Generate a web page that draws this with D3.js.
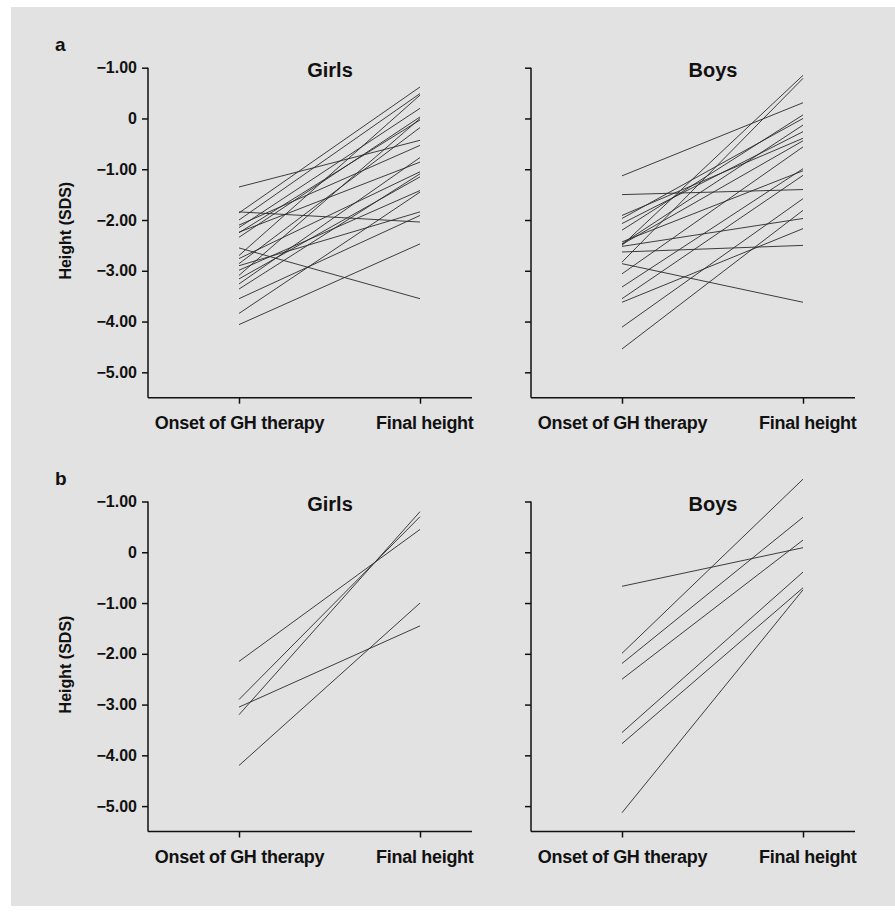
<!DOCTYPE html>
<html>
<head>
<meta charset="utf-8">
<script src="https://cdn.jsdelivr.net/npm/d3@7"></script>
<style>
	body { margin: 0; background: #fff; }
	svg { display: block; font-family: "Liberation Sans", Arial, sans-serif; }
</style>
</head>
<body>
<div id="chart"></div>
<script>
// categories and tick labels
const xCategories = ["Onset of GH therapy", "Final height"];
const yTicks = [1, 0, -1, -2, -3, -4, -5];
const yTickLabels = ["\u22121.00", "0", "\u22121.00", "\u22122.00", "\u22123.00", "\u22124.00", "\u22125.00"];

// panel a, girls (height SDS at onset / final)
const girlsAOnset = [-1.35, -1.84, -2.55, -4.06, -3.84, -3.55, -1.86, -2.0, -2.1, -2.15, -2.24,
	-2.34, -2.7, -2.76, -2.86, -2.99, -3.09, -3.16, -3.26, -3.36, -2.25, -2.9];
const girlsAFinal = [-0.43, -2.04, -3.55, -2.47, -1.45, -1.91, 0.62, 0.49, -0.53, 0.2, -0.86,
	0.03, 0.46, -1.05, -0.18, -1.42, 0, -1.15, -0.77, -1.09, -0.03, -1.84];

// panel a, boys
const boysAOnset = [-1.13, -1.5, -2.63, -2.86, -4.54, -4.11, -3.62, -3.55, -3.32, -3.06, -2.83,
	-2.5, -2.47, -2.43, -2.2, -2.07, -1.97, -1.91, -2.48, -2.52];
const boysAFinal = [0.31, -1.4, -2.5, -3.62, -1.81, -1.58, -2.17, -1.12, -0.99, -0.56, 0.79,
	0.85, -0.13, -1.03, 0.07, -0.26, 0, -0.39, -0.44, -1.97];

// panel b, girls
const girlsBOnset = [-2.15, -2.9, -3.2, -3.05, -4.2];
const girlsBFinal = [0.45, 0.7, 0.8, -1.45, -1.0];

// panel b, boys
const boysBOnset = [-0.67, -1.99, -2.19, -2.5, -3.55, -3.77, -5.13];
const boysBFinal = [0.09, 1.44, 0.69, 0.24, -0.39, -0.7, -0.74];

const width = 895, height = 921;
const plotH = 330, axisLen = 324;

const svg = d3.select("#chart")
	.append("svg")
		.attr("width", width)
		.attr("height", height);

// gray backdrop
svg.append("rect")
	.attr("x", 11)
	.attr("y", 7)
	.attr("width", width - 11)
	.attr("height", 899)
	.attr("fill", "#e2e2e2");

const x = d3.scalePoint()
	.domain(xCategories)
	.range([91, 272]);

const y = d3.scaleLinear()
	.domain([-5.5, 1])
	.range([plotH, 0]);

function drawPanel(left, top, title, onset, final, showLabels) {
	const g = svg.append("g")
		.attr("transform", `translate(${left},${top})`);

	// y axis
	const yAxis = g.append("g")
		.call(d3.axisLeft(y)
			.tickValues(yTicks)
			.tickFormat((d, i) => showLabels ? yTickLabels[i] : "")
			.tickSize(6)
			.tickSizeOuter(0)
			.tickPadding(5));
	yAxis.selectAll("path, line").attr("stroke", "#111").attr("stroke-width", 1.5);
	yAxis.selectAll("text")
		.attr("fill", "#111")
		.attr("font-size", 16)
		.attr("font-weight", "bold");
	yAxis.select(".domain").remove();
	g.append("line")
		.attr("x1", 0).attr("x2", 0)
		.attr("y1", y(1)).attr("y2", plotH)
		.attr("stroke", "#111")
		.attr("stroke-width", 1.5);

	// x axis
	const xAxis = g.append("g")
		.attr("transform", `translate(0,${plotH})`)
		.call(d3.axisBottom(x).tickSize(6).tickPadding(13));
	xAxis.select(".domain").remove();
	xAxis.selectAll("line").attr("stroke", "#111").attr("stroke-width", 1.5);
	xAxis.selectAll("text")
		.attr("fill", "#111")
		.attr("font-size", 18)
		.attr("font-weight", "bold")
		.attr("letter-spacing", -0.3);
	// final height label sits flush with the axis end
	xAxis.selectAll("text")
		.filter(d => d === "Final height")
		.attr("text-anchor", "end")
		.attr("x", axisLen + 1 - x("Final height"));
	g.append("line")
		.attr("x1", 0).attr("x2", axisLen)
		.attr("y1", plotH).attr("y2", plotH)
		.attr("stroke", "#111")
		.attr("stroke-width", 1.5);

	// title
	g.append("text")
		.attr("x", 182)
		.attr("y", 9)
		.attr("text-anchor", "middle")
		.attr("font-size", 20)
		.attr("font-weight", "bold")
		.attr("fill", "#111")
		.text(title);

	// one line per patient
	const pairs = onset.map((v, i) => [v, final[i]]);
	g.append("g")
		.selectAll("path")
		.data(pairs)
		.join("path")
			.attr("fill", "none")
			.attr("stroke", "#2a2a2a")
			.attr("stroke-width", 0.9)
			.attr("d", d => d3.line()
				.x((v, i) => x(xCategories[i]))
				.y(v => y(v))(d));

	if (showLabels) {
		g.append("text")
			.attr("transform", `translate(-83,${plotH / 2 - 2}) rotate(-90)`)
			.attr("text-anchor", "middle")
			.attr("dy", "0.35em")
			.attr("font-size", 16)
			.attr("font-weight", "bold")
			.attr("fill", "#111")
			.text("Height (SDS)");
	}
}

const rows = [{top: 67.7, tag: "a"}, {top: 501.5, tag: "b"}];

drawPanel(148, rows[0].top, "Girls", girlsAOnset, girlsAFinal, true);
drawPanel(531, rows[0].top, "Boys", boysAOnset, boysAFinal, false);
drawPanel(148, rows[1].top, "Girls", girlsBOnset, girlsBFinal, true);
drawPanel(531, rows[1].top, "Boys", boysBOnset, boysBFinal, false);

// panel letters
svg.selectAll(".tag")
	.data(rows)
	.join("text")
		.attr("class", "tag")
		.attr("x", 55)
		.attr("y", d => d.top - 17)
		.attr("font-size", 19)
		.attr("font-weight", "bold")
		.attr("fill", "#111")
		.text(d => d.tag);
</script>
</body>
</html>
